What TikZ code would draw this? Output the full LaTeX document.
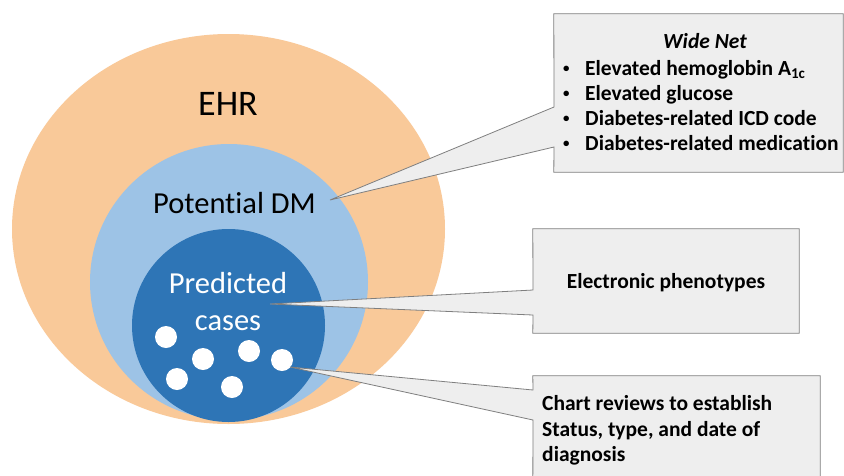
\documentclass[tikz,border=0pt]{standalone}
\usepackage{fontspec}
\setmainfont{Carlito}[Ligatures=NoCommon]
\usetikzlibrary{shapes.geometric}
\definecolor{ehrorange}{HTML}{F9C999}
\definecolor{dmblue}{HTML}{9DC3E6}
\definecolor{casesblue}{HTML}{2E75B6}
\definecolor{calloutfill}{HTML}{EEEEEE}
\definecolor{calloutline}{HTML}{7F7F7F}
\tikzset{
  region/.style={ellipse, inner sep=0pt, draw=none},
  dot/.style={circle, fill=white, minimum size=22pt, inner sep=0pt},
  calloutbox/.style={rectangle, inner sep=0pt},
  callout/.style={fill=calloutfill, draw=calloutline, line width=0.8pt, line join=miter},
  boxtext/.style={font=\fontsize{21.5}{25}\selectfont\bfseries, inner sep=0pt, anchor=base west},
  bigtext/.style={inner sep=0pt, anchor=base},
}
\newcommand{\bulletline}[1]{\makebox[22pt][l]{\raisebox{0.12em}{\scalebox{0.6}{\textbullet}}}#1}
\begin{document}
\begin{tikzpicture}[x=1pt,y=-1pt]
\useasboundingbox (0,0) rectangle (844,475);
\fill[white] (0,0) rectangle (844,475);

% nested populations
\node[region, fill=ehrorange, minimum width=433pt, minimum height=390pt] (ehr) at (228.5,229) {};
\node[region, fill=dmblue, minimum width=278pt, minimum height=276pt] (dm) at (229,282) {};
\node[circle, fill=casesblue, minimum size=193pt, inner sep=0pt] (cases) at (228.5,325.5) {};

\node[bigtext, font=\fontsize{36}{40}\selectfont] (ehrlabel) at (228,115) {EHR};
\node[bigtext, font=\fontsize{30.5}{34}\selectfont] (dmlabel) at (234.5,213) {Potential DM};
\node[bigtext, font=\fontsize{30.5}{34}\selectfont, text=white] (predlabel) at (228,293) {Predicted};
\node[bigtext, font=\fontsize{30.5}{34}\selectfont, text=white] (caseslabel) at (228,330) {cases};

% individual cases
\node[dot] (c1) at (166,337) {};
\node[dot] (c2) at (203,359) {};
\node[dot] (c3) at (249,351) {};
\node[dot] (c4) at (282,360) {};
\node[dot] (c5) at (177,379) {};
\node[dot] (c6) at (232,387) {};

% callout frames
\node[calloutbox, minimum width=289pt, minimum height=158pt] (box1) at (698.5,93) {};
\node[calloutbox, minimum width=266pt, minimum height=104pt] (box2) at (666,281) {};
\node[calloutbox, minimum width=287pt, minimum height=114pt] (box3) at (676.5,433) {};

\coordinate (tip1) at (330,200);
\coordinate (tip2) at (270,304);
\coordinate (tip3) at (290,367);
\coordinate (n1a) at (554,107);
\coordinate (n1b) at (554,147);
\coordinate (n2a) at (533,290);
\coordinate (n2b) at (533,315);
\coordinate (n3a) at (533,390);
\coordinate (n3b) at (533,420);

\draw[callout] (box1.north west) -- (box1.north east) -- (box1.south east) -- (box1.south west)
  -- (n1b) -- (tip1) -- (n1a) -- cycle;
\draw[callout] (box2.north west) -- (box2.north east) -- (box2.south east) -- (box2.south west)
  -- (n2b) -- (tip2) -- (n2a) -- cycle;
\draw[callout] (box3.north west) -- (box3.north east) -- (box3.south east) -- (box3.south west)
  -- (n3b) -- (tip3) -- (n3a) -- cycle;

% callout texts
\node[font=\fontsize{21.5}{25}\selectfont\bfseries\itshape, inner sep=0pt, anchor=base] (widenet) at (705,48) {Wide Net};
\node[boxtext] (l1) at (563,75) {\bulletline{Elevated hemoglobin A\textsubscript{1c}}};
\node[boxtext] (l2) at (563,100) {\bulletline{Elevated glucose}};
\node[boxtext] (l3) at (563,125) {\bulletline{Diabetes-related ICD code}};
\node[boxtext] (l4) at (563,150) {\bulletline{Diabetes-related medication}};

\node[boxtext, anchor=base] (pheno) at (666,288) {Electronic phenotypes};

\node[boxtext] (r1) at (542,410) {Chart reviews to establish};
\node[boxtext] (r2) at (542,436) {Status, type, and date of};
\node[boxtext] (r3) at (542,461) {diagnosis};
\end{tikzpicture}
\end{document}
